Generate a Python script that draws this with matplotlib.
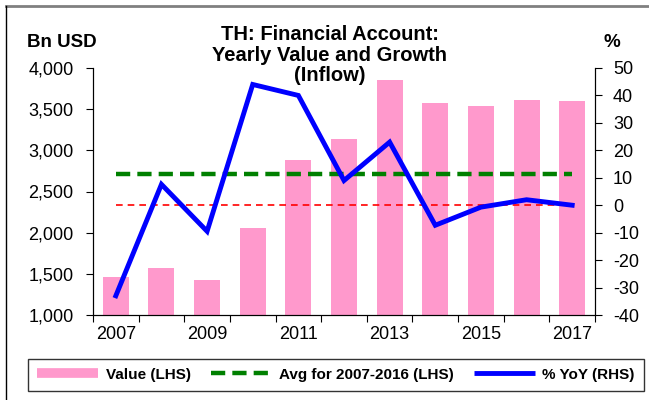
import matplotlib.pyplot as plt
from matplotlib.lines import Line2D

plt.rcParams['font.family'] = ['Liberation Sans', 'DejaVu Sans']
plt.rcParams['axes.unicode_minus'] = False

YEARS = [2007, 2008, 2009, 2010, 2011, 2012, 2013, 2014, 2015, 2016, 2017]
VALUE = [1461, 1570, 1425, 2057, 2883, 3138, 3854, 3575, 3538, 3611, 3600]
YOY = [-33.0, 7.6, -9.5, 44.0, 40.0, 9.0, 23.0, -7.3, -0.7, 2.0, 0.0]
AVG_2007_2016 = sum(VALUE[:10]) / 10
LHS_TICKS = [1000, 1500, 2000, 2500, 3000, 3500, 4000]
RHS_TICKS = [-40, -30, -20, -10, 0, 10, 20, 30, 40, 50]


def main():
    fig = plt.figure(figsize=(6.49, 4.0), dpi=100)
    ax = fig.add_axes([0.1433, 0.2125, 0.7735, 0.6175])
    ax2 = ax.twinx()

    x = list(range(len(YEARS)))
    ax.bar(x, [v - 1000 for v in VALUE], bottom=1000, width=0.57,
           color='#FF99CC', zorder=1)
    ax.plot([x[0], x[-1]], [AVG_2007_2016] * 2, color='#008000', lw=3.2,
            ls=(0, (3.2, 1.6)), zorder=3)

    ax2.plot([x[0], x[-1]], [0, 0], color='red', lw=1.2, ls=(0, (4, 3)), zorder=2)
    ax2.plot(x, YOY, color='#0000FF', lw=3.5, solid_joinstyle='miter', zorder=4)

    ax.set_ylim(1000, 4000)
    ax.set_yticks(LHS_TICKS)
    ax.set_yticklabels([f'{t:,}' for t in LHS_TICKS])
    ax2.set_ylim(-40, 50)
    ax2.set_yticks(RHS_TICKS)
    ax.set_xlim(-0.5, 10.5)

    # ticks at category boundaries, labels at every other year
    ax.set_xticks([i - 0.5 for i in range(len(YEARS) + 1)])
    ax.set_xticklabels([])
    ax.set_xticks(x[::2], minor=True)
    ax.set_xticklabels([str(y) for y in YEARS[::2]], minor=True)
    ax.tick_params(axis='x', which='minor', length=0, labelsize=13, pad=8)
    ax.tick_params(axis='x', which='major', length=5, direction='out')
    ax.tick_params(axis='y', labelsize=13, length=5, pad=9)
    ax2.tick_params(axis='y', labelsize=13, length=5, pad=8)

    for a in (ax, ax2):
        a.spines['top'].set_visible(False)
    ax.set_zorder(ax2.get_zorder() - 1)
    ax2.patch.set_visible(False)
    ax.set_facecolor('white')

    fig.text(0.508, 0.938, 'TH: Financial Account:\nYearly Value and Growth\n(Inflow)',
             ha='center', va='top', fontsize=14.5, fontweight='bold', linespacing=1.12)
    fig.text(0.042, 0.893, 'Bn USD', fontsize=13.5, fontweight='bold', va='center')
    fig.text(0.943, 0.893, '%', fontsize=13.5, fontweight='bold', va='center', ha='center')

    handles = [
        Line2D([0], [0], color='#FF99CC', lw=7, solid_capstyle='butt'),
        Line2D([0], [0], color='#008000', lw=3.2, ls=(0, (3.2, 1.6)),
               dash_capstyle='butt'),
        Line2D([0], [0], color='#0000FF', lw=3.5, solid_capstyle='butt'),
    ]
    labels = ['Value (LHS)', 'Avg for 2007-2016 (LHS)', '% YoY (RHS)']
    leg = fig.legend(handles, labels, loc='lower left', mode='expand',
                     bbox_to_anchor=(28 / 649, 0.0225, 616 / 649, 0.085),
                     ncol=3, frameon=True, fancybox=False, edgecolor='black',
                     prop={'weight': 'bold', 'size': 11}, handlelength=4,
                     handletextpad=0.5, borderpad=0.6, borderaxespad=0)
    leg.get_frame().set_linewidth(1.0)

    # outer frame: grey top rule and black left rule
    fig.add_artist(Line2D([0.0088, 1.0], [0.986, 0.986], transform=fig.transFigure,
                          color='#808080', lw=2))
    fig.add_artist(Line2D([0.0088, 0.0088], [0.0, 0.986], transform=fig.transFigure,
                          color='black', lw=1))

    plt.savefig('out.png', dpi=100)


if __name__ == '__main__':
    main()
